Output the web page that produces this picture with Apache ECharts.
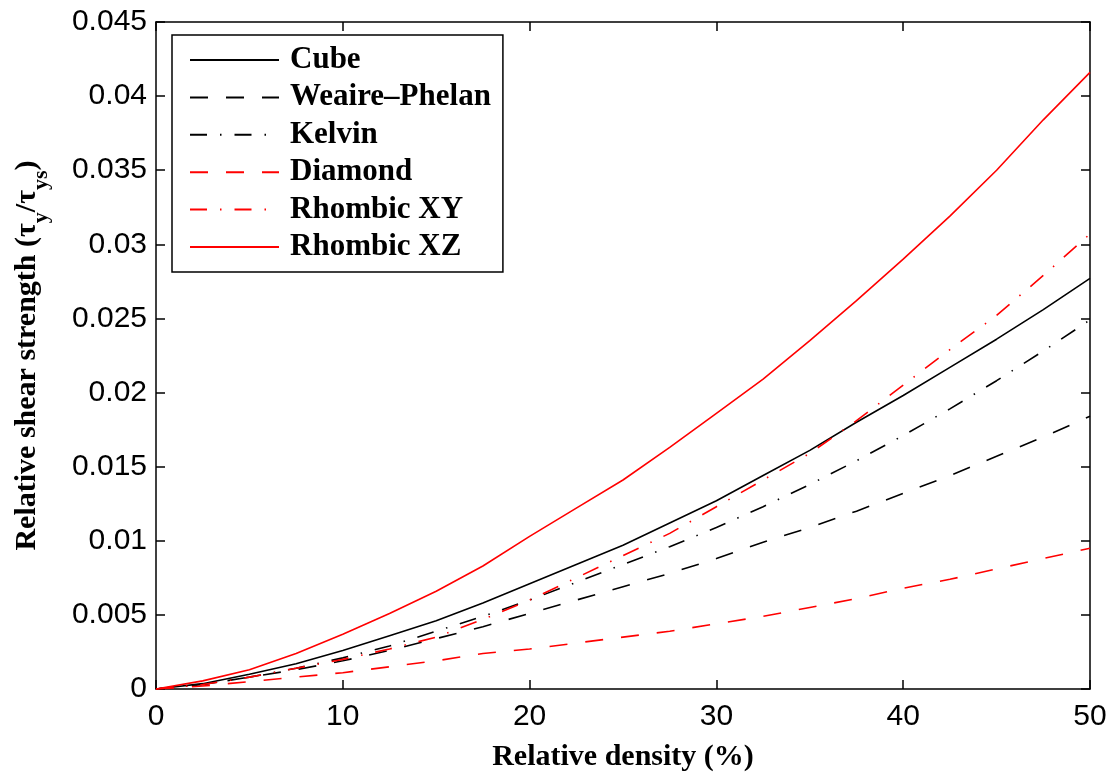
<!DOCTYPE html>
<html>
<head>
<meta charset="utf-8">
<script src="https://cdn.jsdelivr.net/npm/echarts@6/dist/echarts.min.js"></script>
<style>html,body{margin:0;padding:0;background:#fff;}#c{width:1114px;height:774px;}</style>
</head>
<body>
<div id="c"></div>
<script>
// Relative density (%)
const density = [0, 2.5, 5, 7.5, 10, 12.5, 15, 17.5, 20, 22.5, 25, 27.5, 30, 32.5, 35, 37.5, 40, 42.5, 45, 47.5, 50];
// Relative shear strength values
const cube        = [0, 0.00036, 0.0010, 0.0017, 0.0026, 0.0036, 0.0046, 0.0058, 0.0071, 0.0084, 0.0097, 0.0112, 0.0127, 0.0144, 0.0161, 0.0180, 0.0198, 0.0217, 0.0236, 0.0256, 0.0277];
const weairePhelan= [0, 0.0003, 0.0008, 0.0013, 0.0019, 0.0026, 0.0034, 0.0042, 0.0051, 0.0060, 0.0069, 0.0078, 0.0088, 0.0099, 0.0109, 0.0120, 0.0132, 0.0144, 0.0157, 0.0170, 0.0184];
const kelvin      = [0, 0.0003, 0.0008, 0.0014, 0.0021, 0.0029, 0.0039, 0.0049, 0.0060, 0.0072, 0.0084, 0.0096, 0.0109, 0.0123, 0.0138, 0.0154, 0.0171, 0.0189, 0.0208, 0.0228, 0.0249];
const diamond     = [0, 0.0002, 0.0005, 0.0008, 0.0011, 0.0015, 0.0019, 0.0024, 0.0027, 0.0031, 0.0035, 0.0039, 0.0044, 0.0049, 0.0055, 0.0061, 0.0068, 0.0074, 0.0081, 0.0088, 0.0095];
const rhombicXY   = [0, 0.0003, 0.0008, 0.0014, 0.0020, 0.0027, 0.0035, 0.0047, 0.0060, 0.0075, 0.0090, 0.0105, 0.0123, 0.0141, 0.0159, 0.0181, 0.0205, 0.0229, 0.0252, 0.0279, 0.0307];
const rhombicXZ   = [0, 0.00055, 0.0013, 0.0024, 0.0037, 0.0051, 0.0066, 0.0083, 0.0103, 0.0122, 0.0141, 0.0163, 0.0186, 0.0209, 0.0235, 0.0262, 0.0290, 0.0319, 0.0350, 0.0384, 0.0416];

const seriesNames = ['Cube', 'Weaire–Phelan', 'Kelvin', 'Diamond', 'Rhombic XY', 'Rhombic XZ'];
const xTickLabels = ['0', '10', '20', '30', '40', '50'];
const yTickLabels = ['0', '0.005', '0.01', '0.015', '0.02', '0.025', '0.03', '0.035', '0.04', '0.045'];

const seriesValues = [cube, weairePhelan, kelvin, diamond, rhombicXY, rhombicXZ];
const seriesColors = ['#000000', '#000000', '#000000', '#ff0000', '#ff0000', '#ff0000'];
const dashed = [18, 18];
const dashDot = [17, 13, 1.5, 13];
const seriesDash = ['solid', dashed, dashDot, dashed, dashDot, 'solid'];

const chart = echarts.init(document.getElementById('c'), null, {renderer: 'canvas'});

const tickFont = {fontFamily: 'Liberation Sans, Arial, sans-serif', fontSize: 30, color: '#000'};
const serif = 'Liberation Serif, Times New Roman, serif';
const frameLine = {show: true, onZero: false, lineStyle: {color: '#000', width: 1.5}};
const frameTick = {show: true, inside: true, length: 9, lineStyle: {color: '#000', width: 1.5}};

const option = {
  backgroundColor: '#fff',
  animation: false,
  grid: {left: 156, right: 24, top: 22, bottom: 85, containLabel: false, outerBoundsMode: 'none'},
  legend: {
    orient: 'vertical',
    left: 172,
    top: 35,
    padding: [9, 12, 9, 17],
    itemGap: 5.4,
    itemWidth: 89,
    itemHeight: 14,
    borderColor: '#000',
    borderWidth: 1.5,
    borderRadius: 0,
    backgroundColor: '#fff',
    itemStyle: {opacity: 0},
    textStyle: {fontFamily: serif, fontWeight: 'bold', fontSize: 31, color: '#000', lineHeight: 32, padding: [0, 0, 0, 6]},
    data: seriesNames
  },
  xAxis: [{
    type: 'value', position: 'bottom', min: 0, max: 50, interval: 10,
    name: 'Relative density (%)', nameLocation: 'middle', nameGap: 53,
    nameTextStyle: {fontFamily: serif, fontWeight: 'bold', fontSize: 30, color: '#000'},
    axisLine: frameLine, axisTick: frameTick,
    axisLabel: {margin: 13, ...tickFont, formatter: v => xTickLabels[Math.round(v / 10)]},
    splitLine: {show: false}
  }, {
    type: 'value', position: 'top', min: 0, max: 50, interval: 10,
    axisLine: frameLine, axisTick: frameTick,
    axisLabel: {show: false}, splitLine: {show: false}
  }],
  yAxis: [{
    type: 'value', position: 'left', min: 0, max: 0.045, interval: 0.005,
    name: '{b|Relative shear strength (τ}{s|y}{b|/τ}{s|ys}{b|)}',
    nameLocation: 'middle', nameGap: 104, nameRotate: 90,
    nameTextStyle: {
      color: '#000',
      rich: {
        b: {fontFamily: serif, fontWeight: 'bold', fontSize: 30, color: '#000', verticalAlign: 'middle'},
        s: {fontFamily: serif, fontWeight: 'bold', fontSize: 22, color: '#000', lineHeight: 50, verticalAlign: 'bottom'}
      }
    },
    axisLine: frameLine, axisTick: frameTick,
    axisLabel: {margin: 9, ...tickFont, formatter: v => yTickLabels[Math.round(v / 0.005)]},
    splitLine: {show: false}
  }, {
    type: 'value', position: 'right', min: 0, max: 0.045, interval: 0.005,
    axisLine: frameLine, axisTick: frameTick,
    axisLabel: {show: false}, splitLine: {show: false}
  }],
  series: seriesNames.map((name, i) => ({
    name: name,
    type: 'line',
    xAxisIndex: 0,
    yAxisIndex: 0,
    showSymbol: false,
    symbol: 'none',
    smooth: false,
    color: seriesColors[i],
    lineStyle: {color: seriesColors[i], width: 1.6, type: seriesDash[i]},
    itemStyle: {color: seriesColors[i]},
    data: density.map((d, j) => [d, seriesValues[i][j]])
  }))
};
chart.setOption(option);
</script>
</body>
</html>
